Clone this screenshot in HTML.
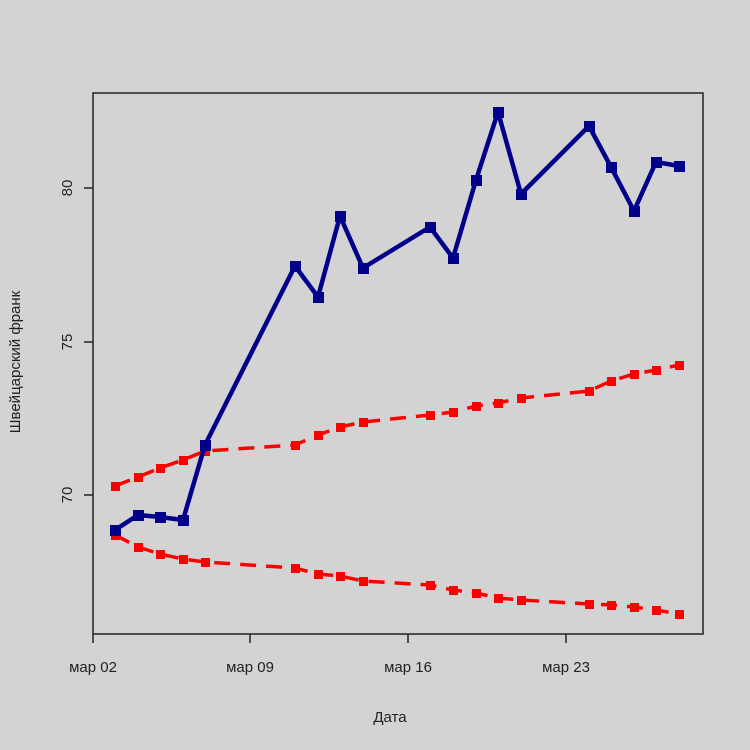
<!DOCTYPE html><html><head><style>body{margin:0;background:#d3d3d3}svg{display:block}</style></head><body>
<svg width="750" height="750" xmlns="http://www.w3.org/2000/svg" font-family="Liberation Sans, sans-serif">
<rect width="750" height="750" fill="#d3d3d3"/>
<rect x="93" y="93" width="610" height="541" fill="none" stroke="#222" stroke-width="1.5"/>
<g stroke="#222" stroke-width="1.5">
<line x1="93" y1="634" x2="93" y2="643"/><line x1="250" y1="634" x2="250" y2="643"/><line x1="408" y1="634" x2="408" y2="643"/><line x1="566" y1="634" x2="566" y2="643"/>
<line x1="84" y1="495" x2="93" y2="495"/><line x1="84" y1="342" x2="93" y2="342"/><line x1="84" y1="188" x2="93" y2="188"/>
</g>
<g font-size="15" fill="#222" text-anchor="middle">
<text x="93" y="672">мар 02</text><text x="250" y="672">мар 09</text><text x="408" y="672">мар 16</text><text x="566" y="672">мар 23</text>
<text x="390" y="722">Дата</text>
<text transform="translate(72,495) rotate(-90)">70</text>
<text transform="translate(72,342) rotate(-90)">75</text>
<text transform="translate(72,188) rotate(-90)">80</text>
<text transform="translate(20,362) rotate(-90)">Швейцарский франк</text>
</g>
<g stroke="#f00" stroke-width="3.5" fill="none" stroke-dasharray="16,10">
<polyline points="115,486 138,477 160,468 183,460 205,451 295,445 318,435 340,427 363,422 430,415 453,412 476,406 498,403 521,398 589,391 611,381 634,374 656,370 679,365"/>
<polyline points="115,535 138,547 160,554 183,559 205,562 295,568 318,574 340,576 363,581 430,585 453,590 476,593 498,598 521,600 589,604 611,605 634,607 656,610 679,614"/>
</g>
<g fill="#f00">
<path d="M111 482h9v9h-9zM134 473h9v9h-9zM156 464h9v9h-9zM179 456h9v9h-9zM201 447h9v9h-9zM291 441h9v9h-9zM314 431h9v9h-9zM336 423h9v9h-9zM359 418h9v9h-9zM426 411h9v9h-9zM449 408h9v9h-9zM472 402h9v9h-9zM494 399h9v9h-9zM517 394h9v9h-9zM585 387h9v9h-9zM607 377h9v9h-9zM630 370h9v9h-9zM652 366h9v9h-9zM675 361h9v9h-9z"/>
<path d="M111 531h9v9h-9zM134 543h9v9h-9zM156 550h9v9h-9zM179 555h9v9h-9zM201 558h9v9h-9zM291 564h9v9h-9zM314 570h9v9h-9zM336 572h9v9h-9zM359 577h9v9h-9zM426 581h9v9h-9zM449 586h9v9h-9zM472 589h9v9h-9zM494 594h9v9h-9zM517 596h9v9h-9zM585 600h9v9h-9zM607 601h9v9h-9zM630 603h9v9h-9zM652 606h9v9h-9zM675 610h9v9h-9z"/>
</g>
<polyline fill="none" stroke="#00008b" stroke-width="4.5" stroke-linejoin="round" points="115,530 138,515 160,517 183,520 205,445 295,266 318,297 340,216 363,268 430,227 453,258 476,180 498,112 521,194 589,126 611,167 634,211 656,162 679,166"/>
<g fill="#00008b">
<path d="M110 525h11v11h-11zM133 510h11v11h-11zM155 512h11v11h-11zM178 515h11v11h-11zM200 440h11v11h-11zM290 261h11v11h-11zM313 292h11v11h-11zM335 211h11v11h-11zM358 263h11v11h-11zM425 222h11v11h-11zM448 253h11v11h-11zM471 175h11v11h-11zM493 107h11v11h-11zM516 189h11v11h-11zM584 121h11v11h-11zM606 162h11v11h-11zM629 206h11v11h-11zM651 157h11v11h-11zM674 161h11v11h-11z"/>
</g>
</svg></body></html>
